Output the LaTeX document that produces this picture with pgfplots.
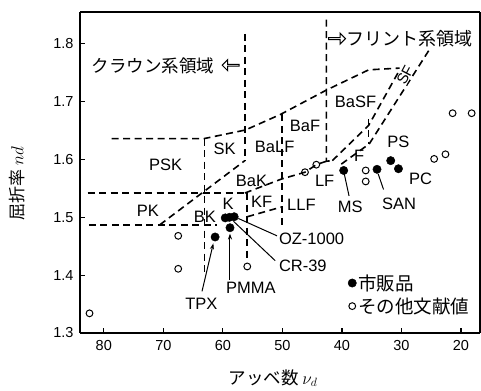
\documentclass[border=0pt]{standalone}
\usepackage{fontspec}
\setmainfont{Liberation Sans}
\newfontfamily\cjk{Noto Sans CJK JP}
\usepackage{pgfplots}
\pgfplotsset{compat=1.18}
\usetikzlibrary{arrows.meta,shapes.arrows}
\begin{document}
\begin{tikzpicture}
\begin{axis}[name=ax, scale only axis, width=400pt, height=321pt,
  x dir=reverse, xmin=16.8, xmax=84, ymin=1.3, ymax=1.855,
  xtick={20,30,40,50,60,70,80}, xticklabels={20,30,40,50,60,70,80},
  ytick={1.3,1.4,1.5,1.6,1.7,1.8}, yticklabels={1.3,1.4,1.5,1.6,1.7,1.8},
  /pgf/number format/assume math mode=true,
  tick align=inside, xtick pos=bottom, ytick pos=left,
  major tick length=5pt,
  tick style={line width=1.2pt, black},
  separate axis lines,
  axis line style={line width=1.6pt},
  ticklabel style={font=\fontsize{14.5}{16}\selectfont},
  xticklabel style={yshift=-4pt},
  yticklabel style={xshift=-3pt},
  clip=false,
  legend style={at={(axis cs:39.0,1.405)}, anchor=north west, draw=none, fill=none,
    font=\cjk\fontsize{18.5}{21}\selectfont, row sep=2pt, inner sep=0pt, cells={anchor=west}},
  legend image code/.code={\draw[mark repeat=2,mark phase=2,#1] plot coordinates {(0pt,0pt)(4pt,0pt)(8pt,0pt)};},
]
% data
\addplot[only marks, mark=*, mark size=4.2pt, black] coordinates {
 (61.3,1.466) (58.8,1.482) (59.6,1.499) (58.9,1.500) (58.1,1.501)
 (39.7,1.581) (34.1,1.583) (31.8,1.598) (30.5,1.584)};
\addlegendentry{市販品}
\addplot[only marks, mark=o, mark size=3.4pt, line width=1pt, black] coordinates {
 (67.5,1.468) (67.5,1.411) (82.4,1.334) (55.9,1.415) (46.2,1.578) (44.3,1.591)
 (36.0,1.581) (36.0,1.562) (24.5,1.601) (22.6,1.609) (21.4,1.680) (18.2,1.680)};
\addlegendentry{その他文献値}
% region boundaries
\pgfplotsset{every axis plot/.append style={forget plot}}
\tikzset{bd/.style={black, line width=1.6pt, dash pattern=on 7pt off 4.5pt}}
\addplot[bd] coordinates {(78.7,1.636)(63.2,1.636)(56.2,1.651)(50.3,1.678)(42.6,1.720)(35.5,1.755)(30.3,1.758)};
\addplot[bd] coordinates {(63.1,1.636)(63.1,1.405)};
\addplot[bd] coordinates {(82.7,1.542)(56.3,1.542)};
\addplot[bd] coordinates {(82.5,1.487)(61.0,1.487)};
\addplot[bd] coordinates {(70.6,1.487)(56.3,1.598)};
\addplot[bd] coordinates {(56.3,1.817)(56.3,1.598)};
\addplot[bd] coordinates {(55.9,1.542)(55.9,1.423)};
\addplot[bd] coordinates {(55.9,1.501)(50.1,1.518)};
\addplot[bd] coordinates {(50.1,1.678)(50.1,1.482)};
\addplot[bd] coordinates {(56.3,1.542)(50.2,1.566)(46.2,1.578)(44.3,1.591)(42.6,1.597)};
\addplot[bd] coordinates {(42.6,1.842)(42.6,1.597)(41.6,1.598)};
\addplot[bd] coordinates {(41.6,1.598)(35.5,1.659)(30.3,1.755)};
\addplot[bd] coordinates {(40.1,1.592)(35.4,1.627)(25.3,1.790)};
\addplot[bd] coordinates {(35.5,1.670)(35.5,1.627)};
% region labels
\begin{scope}[every node/.style={font=\fontsize{16.5}{18}\selectfont, inner sep=0pt}]
\node at (axis cs:69.6,1.591) {PSK};
\node at (axis cs:59.7,1.618) {SK};
\node at (axis cs:51.3,1.622) {BaLF};
\node at (axis cs:46.2,1.658) {BaF};
\node at (axis cs:37.7,1.700) {BaSF};
\node[rotate=62, fill=white, inner sep=0.5pt, font=\fontsize{15}{16}\selectfont] at (axis cs:29.4,1.746) {SF};
\node at (axis cs:37.1,1.607) {F};
\node at (axis cs:42.9,1.563) {LF};
\node at (axis cs:55.2,1.563) {BaK};
\node at (axis cs:53.5,1.526) {KF};
\node at (axis cs:46.8,1.522) {LLF};
\node at (axis cs:59.1,1.524) {K};
\node at (axis cs:63.0,1.500) {BK};
\node at (axis cs:72.6,1.512) {PK};
% sample labels
\node[anchor=west] at (axis cs:50.6,1.463) {OZ-1000};
\node[anchor=west] at (axis cs:50.6,1.417) {CR-39};
\node at (axis cs:55.3,1.378) {PMMA};
\node at (axis cs:63.6,1.350) {TPX};
\node at (axis cs:38.6,1.518) {MS};
\node at (axis cs:30.4,1.524) {SAN};
\node at (axis cs:30.5,1.631) {PS};
\node at (axis cs:26.8,1.566) {PC};
\end{scope}
% leaders
\draw[line width=1pt, -{Stealth[length=6pt,width=4pt]}] (axis cs:63.5,1.372) -- (axis cs:61.6,1.455);
\draw[line width=1pt, -{Stealth[length=6pt,width=4pt]}] (axis cs:58.8,1.392) -- (axis cs:58.8,1.472);
\draw[line width=1pt] (axis cs:57.4,1.498) -- (axis cs:50.9,1.468);
\draw[line width=1pt] (axis cs:58.2,1.493) -- (axis cs:51.2,1.425);
\draw[line width=1pt] (axis cs:39.6,1.575) -- (axis cs:38.8,1.537);
\draw[line width=1pt] (axis cs:33.9,1.575) -- (axis cs:33.0,1.548);
% region captions
\node[anchor=east, inner sep=0pt, font=\cjk\fontsize{17.5}{19}\selectfont] at (axis cs:61.4,1.761) {クラウン系領域};
\node[single arrow, draw, line width=1pt, shape border rotate=180, minimum height=17pt, minimum width=11pt,
  single arrow head extend=2.5pt, inner sep=0pt] at (axis cs:58.6,1.763) {};
\node[single arrow, draw, line width=1pt, minimum height=17pt, minimum width=11pt,
  single arrow head extend=2.5pt, inner sep=0pt] at (axis cs:40.9,1.809) {};
\node[anchor=west, inner sep=0pt, font=\cjk\fontsize{18}{20}\selectfont] at (axis cs:39.2,1.809) {フリント系領域};
\end{axis}
\node[rotate=90, font=\cjk\fontsize{17}{19}\selectfont] at ([xshift=-63pt,yshift=-11pt]ax.west) {屈折率 $nd$};
\node[font=\cjk\fontsize{17.5}{19}\selectfont] at ([xshift=-7pt,yshift=-45pt]ax.south) {アッベ数 $\nu_d$};
\pgfresetboundingbox
\path[use as bounding box] ([shift={(-80pt,-58pt)}]ax.south west) rectangle ([shift={(1pt,12pt)}]ax.north east);
\end{tikzpicture}
\end{document}
